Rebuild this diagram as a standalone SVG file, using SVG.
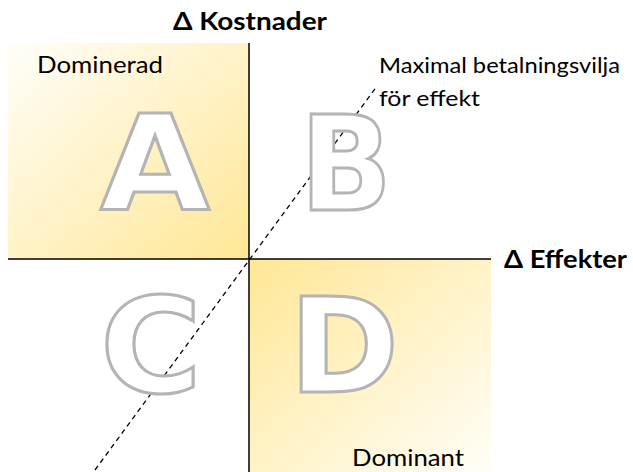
<svg xmlns="http://www.w3.org/2000/svg" width="633" height="472" viewBox="0 0 633 472">
<defs>
<linearGradient id="gA" x1="0" y1="0" x2="1" y2="1">
<stop offset="0" stop-color="#fffef9"/>
<stop offset="1" stop-color="#ffe795"/>
</linearGradient>
<linearGradient id="gD" x1="0" y1="0" x2="1" y2="1">
<stop offset="0" stop-color="#ffe795"/>
<stop offset="1" stop-color="#fffef9"/>
</linearGradient>
<style>
.big{font-family:"DejaVu Sans",sans-serif;font-weight:bold;font-size:132px;fill:#fff;stroke:#b4b4b4;stroke-width:3;}
.lbl{font-family:Lato,"Liberation Sans",sans-serif;font-size:24px;fill:#000;}
.sm{font-size:22px;}
.ax{font-family:Lato,"Liberation Sans",sans-serif;font-weight:bold;font-size:24px;fill:#000;}
.axis{stroke:#000;stroke-width:1.5;fill:none;}
</style>
</defs>
<rect width="633" height="472" fill="#fff"/>
<g id="quadrantA"><rect x="8" y="43" width="241" height="216" fill="url(#gA)"/></g>
<g id="quadrantD"><rect x="249" y="259" width="242" height="213" fill="url(#gD)"/></g>
<g id="connectors">
<line x1="95" y1="470" x2="377" y2="86" stroke="#000" stroke-width="1.3" stroke-dasharray="5,4"/>
<line class="axis" x1="249" y1="43" x2="249" y2="472"/>
<line class="axis" x1="8" y1="259" x2="491" y2="259"/>
</g>
<g id="letters">
<text class="big" x="100" y="210" textLength="110" lengthAdjust="spacingAndGlyphs">A</text>
<text class="big" x="300" y="210" textLength="92" lengthAdjust="spacingAndGlyphs">B</text>
<text class="big" x="100" y="392" textLength="102" lengthAdjust="spacingAndGlyphs">C</text>
<text class="big" x="289" y="392" textLength="110" lengthAdjust="spacingAndGlyphs">D</text>
</g>
<g id="labels">
<text class="ax" x="173" y="30" textLength="154" lengthAdjust="spacingAndGlyphs">Δ Kostnader</text>
<text class="ax" x="504" y="268" textLength="123" lengthAdjust="spacingAndGlyphs">Δ Effekter</text>
<text class="lbl" x="37" y="73" textLength="126" lengthAdjust="spacingAndGlyphs">Dominerad</text>
<text class="lbl sm" x="379" y="73" textLength="241" lengthAdjust="spacingAndGlyphs">Maximal betalningsvilja</text>
<text class="lbl sm" x="379" y="106" textLength="101" lengthAdjust="spacingAndGlyphs">för effekt</text>
<text class="lbl" x="352" y="466" textLength="112" lengthAdjust="spacingAndGlyphs">Dominant</text>
</g>
</svg>
